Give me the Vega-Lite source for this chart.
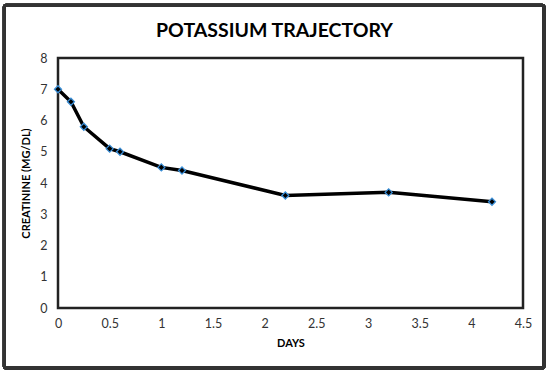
{
  "$schema": "https://vega.github.io/schema/vega-lite/v6.json",
  "width": 465,
  "height": 250,
  "autosize": {"type": "none"},
  "padding": {"left": 58, "top": 58, "right": 27, "bottom": 66},
  "background": "white",
  "title": {
    "text": "POTASSIUM TRAJECTORY",
    "font": "Lato",
    "fontSize": 19.5,
    "fontWeight": "bold",
    "color": "#000000",
    "anchor": "middle",
    "frame": "group",
    "dx": -16,
    "offset": -38
  },
  "config": {
    "view": {"stroke": "#222222", "strokeWidth": 2.5},
    "axis": {
      "labelFont": "Lato",
      "titleFont": "Lato",
      "labelFontSize": 12.5,
      "labelColor": "#333333",
      "titleFontSize": 11,
      "titleFontWeight": "bold",
      "titleColor": "#000000",
      "grid": false,
      "ticks": false,
      "domain": false,
      "labelOverlap": false,
      "labelFlush": false,
      "format": "~g"
    },
    "axisY": {"tickCount": 8, "labelPadding": 11, "titlePadding": 8, "format": "~g"},
    "axisX": {"tickCount": 9, "labelPadding": 9, "titlePadding": 8, "format": "~g"}
  },
  "data": {
    "values": [
      {"days": 0, "creatinine": 7.0},
      {"days": 0.125, "creatinine": 6.6},
      {"days": 0.25, "creatinine": 5.8},
      {"days": 0.5, "creatinine": 5.1},
      {"days": 0.6, "creatinine": 5.0},
      {"days": 1.0, "creatinine": 4.5},
      {"days": 1.2, "creatinine": 4.4},
      {"days": 2.2, "creatinine": 3.6},
      {"days": 3.2, "creatinine": 3.7},
      {"days": 4.2, "creatinine": 3.4}
    ]
  },
  "layer": [
    {
      "mark": {"type": "line", "color": "#000000", "strokeWidth": 3.5},
      "encoding": {
        "x": {
          "field": "days",
          "type": "quantitative",
          "title": "DAYS",
          "scale": {"domain": [0, 4.5], "nice": false, "zero": false}
        },
        "y": {
          "field": "creatinine",
          "type": "quantitative",
          "title": "CREATININE (MG/DL)",
          "scale": {"domain": [0, 8], "nice": false}
        }
      }
    },
    {
      "mark": {"type": "point", "shape": "diamond", "filled": true, "fill": "#000000", "stroke": "#3a8fd8", "strokeWidth": 1.2, "size": 50, "opacity": 1},
      "encoding": {
        "x": {"field": "days", "type": "quantitative"},
        "y": {"field": "creatinine", "type": "quantitative"}
      }
    },
    {
      "mark": {"type": "rect", "fill": null, "stroke": "#333333", "strokeWidth": 3, "clip": false, "cornerRadius": 2},
      "encoding": {
        "x": {"datum": -0.52, "type": "quantitative"},
        "x2": {"datum": 4.703},
        "y": {"datum": 9.69, "type": "quantitative"},
        "y2": {"datum": -1.92}
      }
    }
  ]
}
